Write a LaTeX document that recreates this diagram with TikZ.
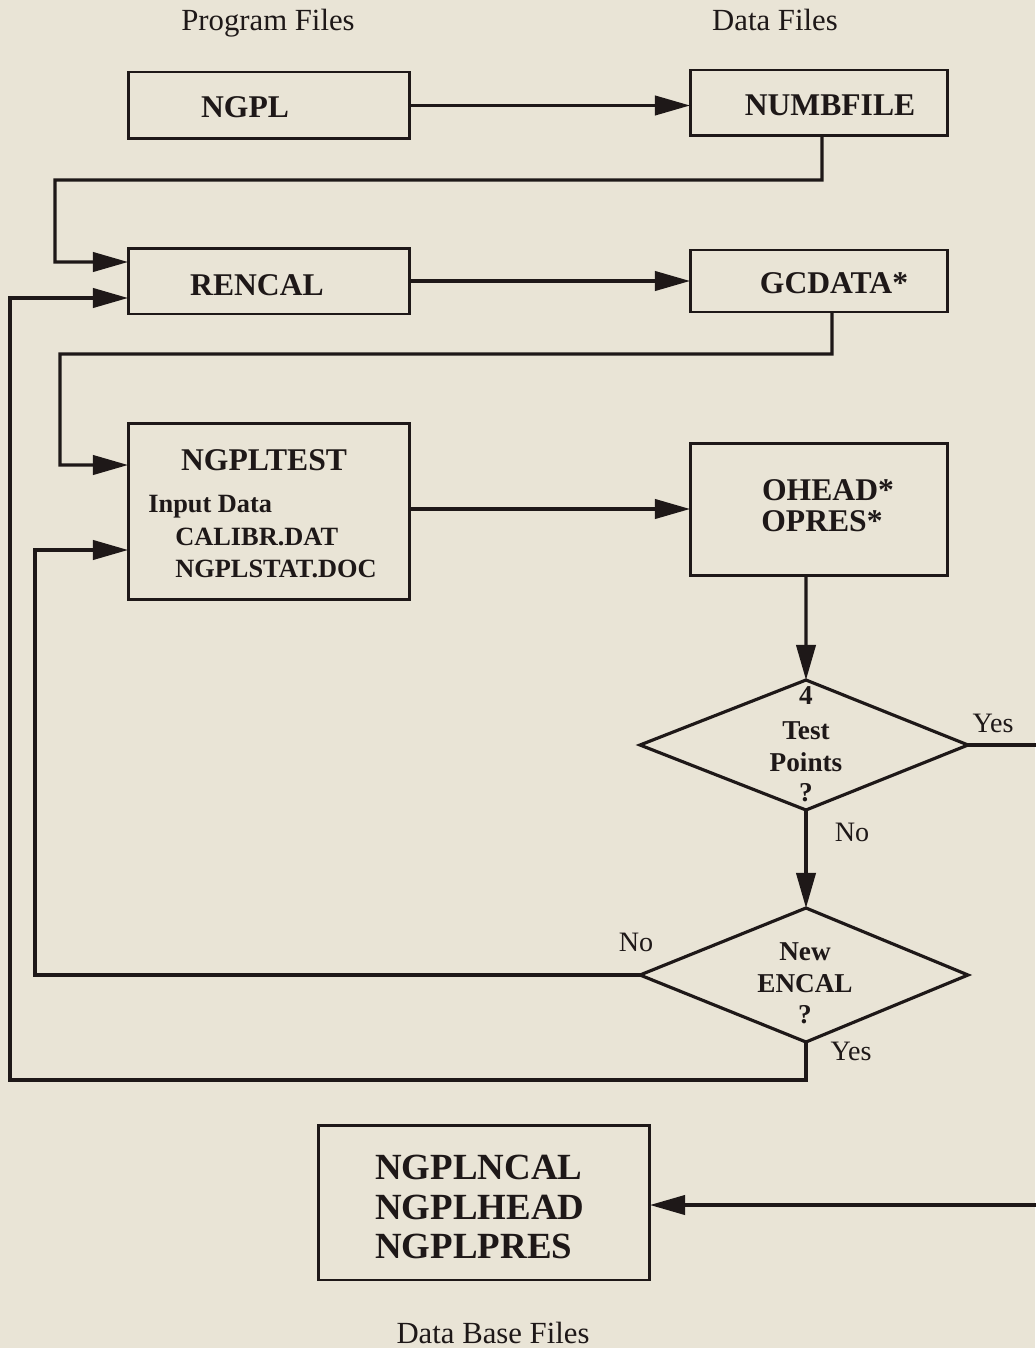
\documentclass[tikz,border=0pt]{standalone}
\usepackage{fontspec}
\setmainfont{Liberation Serif}
\usetikzlibrary{arrows.meta}
\definecolor{paper}{RGB}{233,228,214}
\definecolor{ink}{RGB}{30,24,24}
\begin{document}
\begin{tikzpicture}[x=0.02cm,y=-0.02cm,
  box/.style={draw=ink,line width=1.7pt,rectangle,inner sep=0pt,outer sep=0pt},
  lbl/.style={inner sep=0pt,anchor=base,text=ink,font=\bfseries\fontsize{18}{20}\selectfont},
  sub/.style={inner sep=0pt,anchor=base west,text=ink,font=\bfseries\fontsize{15}{17}\selectfont},
  dtx/.style={inner sep=0pt,anchor=base,text=ink,font=\bfseries\fontsize{15.5}{17}\selectfont},
  yn/.style={inner sep=0pt,anchor=base,text=ink,font=\fontsize{16}{18}\selectfont},
  head/.style={inner sep=0pt,anchor=base,text=ink,font=\fontsize{17.5}{20}\selectfont},
  big/.style={inner sep=0pt,anchor=base west,text=ink,font=\bfseries\fontsize{21}{24}\selectfont},
  ln/.style={draw=ink,line width=1.8pt},
  arr/.style={ln,-{Triangle[length=20pt,width=11pt]}}]
\useasboundingbox[fill=paper] (0,0) rectangle (1035,1348);

% headings
\node[head] (hprog) at (268,31) {Program Files};
\node[head] (hdata) at (775,31) {Data Files};
\node[head] (hdb) at (493,1343) {Data Base Files};

% boxes
\node[box,minimum width=5.64cm,minimum height=1.34cm] (ngpl) at (269,105.5) {};
\node[box,minimum width=5.16cm,minimum height=1.32cm] (numb) at (819,103) {};
\node[box,minimum width=5.64cm,minimum height=1.32cm] (rencal) at (269,281) {};
\node[box,minimum width=5.16cm,minimum height=1.24cm] (gcdata) at (819,281) {};
\node[box,minimum width=5.64cm,minimum height=3.54cm] (test) at (269,511.5) {};
\node[box,minimum width=5.16cm,minimum height=2.66cm] (ohead) at (819,509.5) {};
\node[box,minimum width=6.64cm,minimum height=3.10cm] (db) at (484,1202.5) {};

% box labels
\node[lbl] (tngpl) at (245,118) {NGPL};
\node[lbl] (tnumb) at (830,116) {NUMBFILE};
\node[lbl] (trencal) at (257,295) {RENCAL};
\node[lbl] (tgc) at (834,293) {GCDATA*};
\node[lbl] (ttest) at (264,470) {NGPLTEST};
\node[sub] (tin) at (148,512) {Input Data};
\node[sub] (tcal) at (175,545) {CALIBR.DAT};
\node[sub] (tstat) at (175,577) {NGPLSTAT.DOC};
\node[lbl] (toh) at (828,500) {OHEAD*};
\node[lbl] (top) at (822,531) {OPRES*};
\node[big] (tdb1) at (375,1179) {NGPLNCAL};
\node[big] (tdb2) at (375,1219) {NGPLHEAD};
\node[big] (tdb3) at (375,1258) {NGPLPRES};

% diamonds
\coordinate (d1t) at (806,680);
\coordinate (d1l) at (640,745);
\coordinate (d1r) at (968,745);
\coordinate (d1b) at (806,810);
\draw[ln,line join=miter] (d1t) -- (d1r) -- (d1b) -- (d1l) -- cycle;
\coordinate (d2t) at (806,908);
\coordinate (d2l) at (640,975);
\coordinate (d2r) at (968,975);
\coordinate (d2b) at (806,1042);
\draw[ln,line join=miter] (d2t) -- (d2r) -- (d2b) -- (d2l) -- cycle;

\node[dtx] (q1a) at (806,704) {4};
\node[dtx] (q1b) at (806,739) {Test};
\node[dtx] (q1c) at (806,771) {Points};
\node[dtx] (q1d) at (806,801) {?};
\node[dtx] (q2a) at (805,960) {New};
\node[dtx] (q2b) at (805,992) {ENCAL};
\node[dtx] (q2c) at (805,1023) {?};

\node[yn] (yes1) at (993,732) {Yes};
\node[yn] (no1) at (852,841) {No};
\node[yn] (no2) at (636,951) {No};
\node[yn] (yes2) at (851,1060) {Yes};

% connectors
\draw[arr] (ngpl.east) -- (ngpl.east -| numb.west);
\draw[arr] ([xshift=0.06cm]numb.south) -- (822,180) -- (55,180) |- ([yshift=0.38cm]rencal.west);
\draw[arr] (rencal.east) -- (rencal.east -| gcdata.west);
\draw[arr] ([xshift=0.26cm]gcdata.south) -- (832,354) -- (60,354) |- ([yshift=0.93cm]test.west);
\draw[arr] ([yshift=0.05cm]test.east) -- ([yshift=0.05cm]test.east -| ohead.west);
\draw[arr] ([xshift=-0.26cm]ohead.south) -- (d1t);
\draw[arr] (d1b) -- (d2t);
\draw[arr] (d2l) -- (35,975) |- ([yshift=-0.77cm]test.west);
\draw[arr] (d2b) -- (806,1080) -- (10,1080) |- ([yshift=-0.34cm]rencal.west);
\coordinate (edge1) at (1045,745);
\coordinate (edge2) at (1045,1205);
\draw[arr] (d1r) -- (edge1) -- (edge2) -- (edge2 -| db.east);
\end{tikzpicture}
\end{document}
